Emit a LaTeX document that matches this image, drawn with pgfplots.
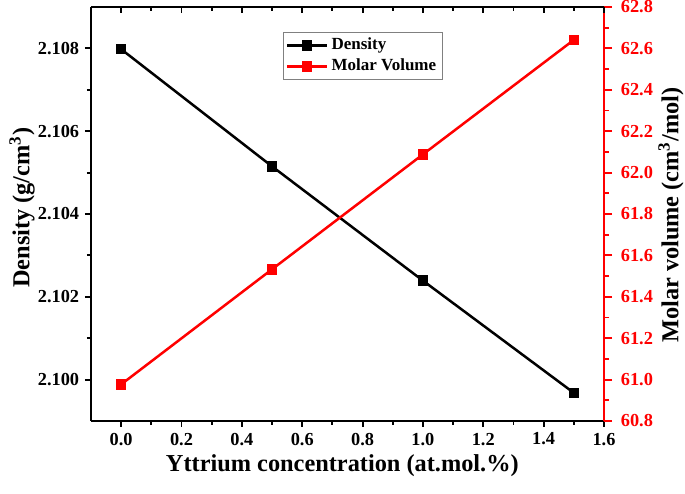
\documentclass[border=0pt]{standalone}
\usepackage{fontspec}
\setmainfont{Liberation Serif}
\usepackage{pgfplots}
\pgfplotsset{compat=1.18}
\pgfplotstableread{
x dens
0.0 2.10798
0.5 2.10515
1.0 2.10239
1.5 2.09968
}\densitytab
\pgfplotstableread{
x mv
0.0 60.977
0.5 61.533
1.0 62.088
1.5 62.641
}\molartab
\begin{document}
\begin{tikzpicture}
\def\u{0.6pt}
\pgfplotsset{
  common/.style={
    scale only axis, width=513*\u, height=414*\u,
    at={(0,0)}, anchor=south west,
    xmin=-0.1, xmax=1.6,
    tick label style={font=\fontsize{11}{13}\selectfont\bfseries},
    label style={font=\fontsize{14.6}{18}\selectfont\bfseries},
    major tick length=6*\u, minor tick length=4*\u,
    every tick/.style={line width=1.1pt},
    axis line style={line width=1.3pt},
  }
}
\begin{axis}[common,
  axis x line*=bottom, axis y line*=left,
  tick align=outside,
  ymin=2.099, ymax=2.109,
  ytick={2.100,2.102,2.104,2.106,2.108},
  yticklabels={\textbf{2.100},\textbf{2.102},\textbf{2.104},\textbf{2.106},\textbf{2.108}},
  minor y tick num=1,
  xtick={0,0.2,0.4,0.6,0.8,1.0,1.2,1.4,1.6}, minor x tick num=1,
  xticklabels={\textbf{0.0},\textbf{0.2},\textbf{0.4},\textbf{0.6},\textbf{0.8},\textbf{1.0},\textbf{1.2},\textbf{1.4},\textbf{1.6}},
  xlabel={Yttrium concentration (at.mol.\%)},
  ylabel={Density (g/cm\textsuperscript{3})},
  xlabel style={at={(axis description cs:0.49,-0.108)}, anchor=center},
  ylabel style={at={(axis description cs:-0.1345,0.515)}, anchor=center},
  legend style={at={(axis description cs:0.374,0.94)}, anchor=north west,
    draw=gray, line width=0.6pt, font=\fontsize{10.2}{12}\selectfont\bfseries,
    inner sep=1.5pt, row sep=0pt, cells={anchor=west}},
  legend image code/.code={\draw[mark repeat=2,mark phase=2,#1] plot coordinates {(0cm,0cm) (0.42cm,0cm) (0.84cm,0cm)};},
]
\addplot[black, line width=1.5pt, mark=square*, mark size=2.4pt] table[x=x,y=dens]{\densitytab};
\addlegendentry{Density}
\addlegendimage{red, line width=1.5pt, mark=square*, mark size=2.4pt}
\addlegendentry{Molar Volume}
\end{axis}
\begin{axis}[common,
  axis x line=none, axis y line*=right,
  tick align=outside,
  major tick length=8*\u, minor tick length=5*\u,
  ymin=60.8, ymax=62.8,
  ytick={60.8,61.0,61.2,61.4,61.6,61.8,62.0,62.2,62.4,62.6,62.8}, minor y tick num=1,
  yticklabels={\textbf{60.8},\textbf{61.0},\textbf{61.2},\textbf{61.4},\textbf{61.6},\textbf{61.8},\textbf{62.0},\textbf{62.2},\textbf{62.4},\textbf{62.6},\textbf{62.8}},
  axis line style={red, line width=1.3pt},
  y tick style={red},
  yticklabel style={red, xshift=3*\u},
  ylabel={Molar volume (cm\textsuperscript{3}/mol)},
  ylabel style={at={(axis description cs:1.1306,0.497)}, anchor=center},
]
\addplot[red, line width=1.5pt, mark=square*, mark size=2.4pt] table[x=x,y=mv]{\molartab};
\end{axis}
\begin{axis}[common,
  axis x line*=top, hide y axis,
  tick align=inside,
  ymin=0, ymax=1,
  xtick={0,0.2,0.4,0.6,0.8,1.0,1.2,1.4,1.6}, minor x tick num=1,
  xticklabels={},
]
\addplot[draw=none] coordinates {(0,0)};
\end{axis}
\pgfresetboundingbox
\path (-91*\u,-72*\u) rectangle (594*\u,421*\u);
\end{tikzpicture}
\end{document}
